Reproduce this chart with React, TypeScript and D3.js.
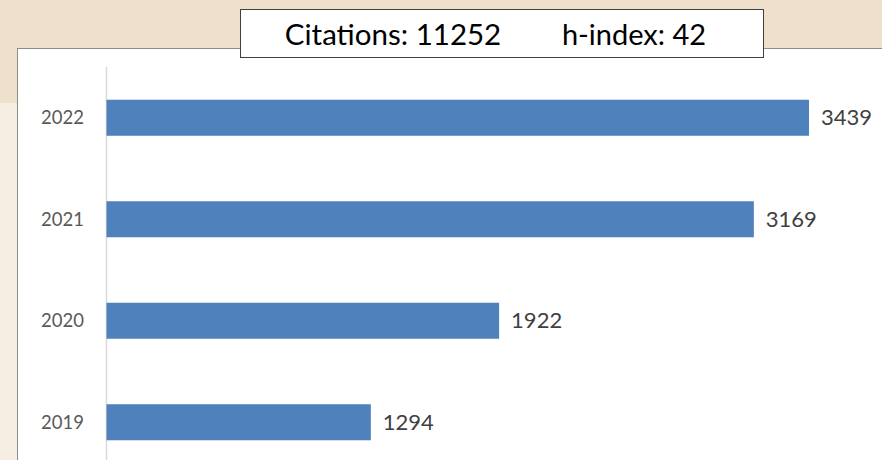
import React from "react";
import * as d3 from "d3";

const years = ["2022", "2021", "2020", "2019"];
const citations = [3439, 3169, 1922, 1294];
const totalCitations = 11252;
const hIndex = 42;

const W = 882;
const H = 460;
const FONT = "Lato, 'Open Sans', sans-serif";

export default function App() {
  const x = d3.scaleLinear().domain([0, 3439]).range([106.5, 809]);
  const y = d3.scaleBand().domain(years).range([67, 473]).paddingInner(0.645).paddingOuter(0.3225);

  return (
    <svg width={W} height={H} style={{ position: "absolute", left: 0, top: 0, display: "block" }}>
      {/* page background */}
      <rect x={0} y={0} width={W} height={H} fill="#F6EEE3" />
      <rect x={0} y={0} width={W} height={103} fill="#EEE0CB" />

      {/* chart panel */}
      <rect x={17.5} y={48.5} width={W} height={H} fill="#FFFFFF" stroke="#8C8C8C" strokeWidth={1} />

      {/* axis line */}
      <line x1={106.5} x2={106.5} y1={67} y2={H} stroke="#D9D9D9" strokeWidth={1.5} />

      {years.map((yr, i) => (
        <g key={yr}>
          <rect
            x={x(0)}
            y={y(yr)!}
            width={x(citations[i]) - x(0)}
            height={y.bandwidth()}
            fill="#4F81BD"
          />
          <text
            x={84}
            y={y(yr)! + y.bandwidth() / 2}
            dy="0.35em"
            textAnchor="end"
            fontFamily={FONT}
            fontSize={18.5}
            fill="#595959"
          >
            {yr}
          </text>
          <text
            x={x(citations[i]) + 12}
            y={y(yr)! + y.bandwidth() / 2}
            dy="0.35em"
            fontFamily={FONT}
            fontSize={22}
            fill="#404040"
          >
            {citations[i]}
          </text>
        </g>
      ))}

      {/* title box */}
      <rect x={240.5} y={9.5} width={523} height={48} fill="#FFFFFF" stroke="#404040" strokeWidth={1} />
      <text x={393} y={45} textAnchor="middle" fontFamily={FONT} fontSize={29.5} fill="#000000">
        {`Citations: ${totalCitations}`}
      </text>
      <text x={634} y={45} textAnchor="middle" fontFamily={FONT} fontSize={29} fill="#000000">
        {`h-index: ${hIndex}`}
      </text>
    </svg>
  );
}
